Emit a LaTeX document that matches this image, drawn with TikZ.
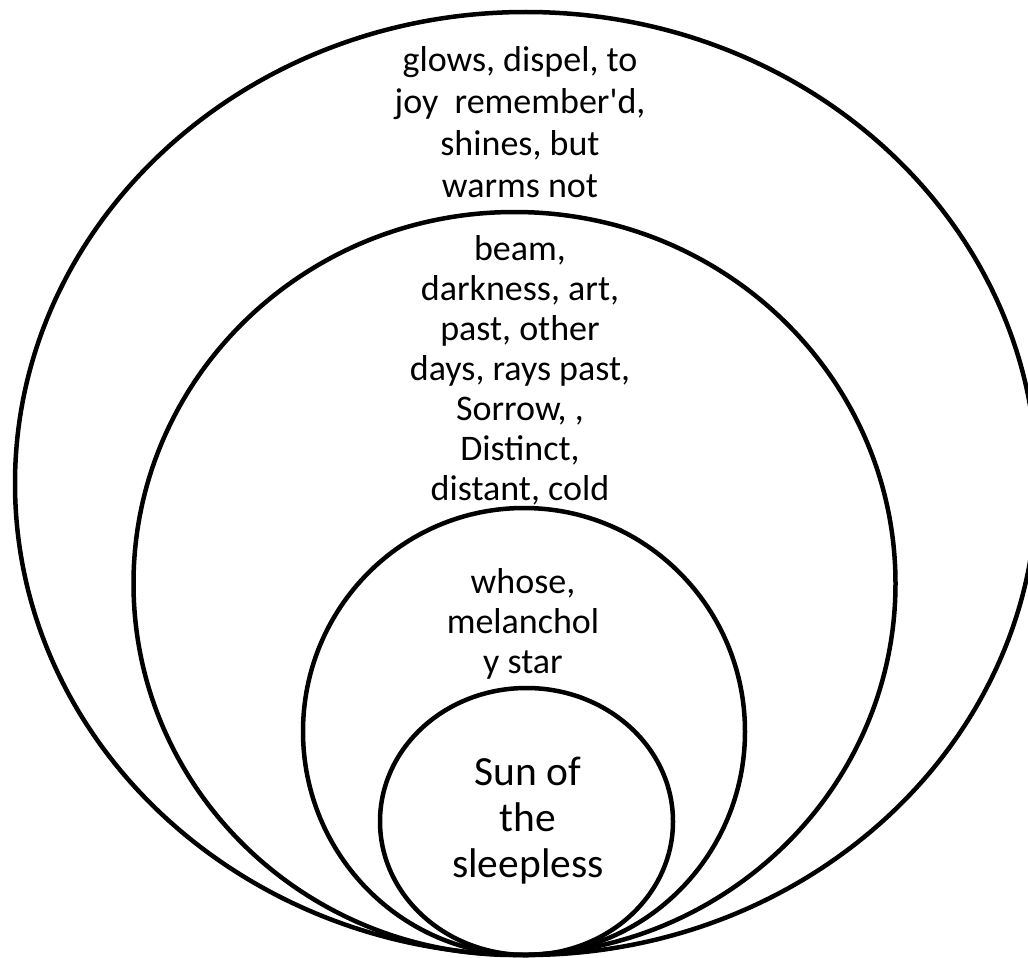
\documentclass[tikz,border=0pt]{standalone}
\usepackage{fontspec}
\setmainfont{Carlito}
\usetikzlibrary{positioning}
\tikzset{
  ring/.style={line width=4.5pt},
  words/.style={align=center, inner sep=0pt, font=\fontsize{36}{40}\selectfont},
  core/.style={align=center, inner sep=0pt, font=\fontsize{41.5}{46}\selectfont}
}
\begin{document}
\begin{tikzpicture}[x=1pt, y=-1pt]
  \useasboundingbox (0,0) rectangle (1028,958);
  % nested rings, all touching at the bottom
  \draw[ring] (526,483.5) ellipse [x radius=511, y radius=471.5];
  \draw[ring] (514.5,583.5) ellipse [x radius=381, y radius=371.5];
  \draw[ring] (524,731.5) ellipse [x radius=221, y radius=223.5];
  \draw[ring] (526.5,821.5) ellipse [x radius=146.5, y radius=133.5];
  % texts
  \node[words, font=\fontsize{36}{42}\selectfont] (outer) at (520,122) {glows, dispel, to\\joy\ \ remember\textquotesingle d,\\shines, but\\warms not};
  \node[words] (second) at (520,370) {beam,\\darkness, art,\\past, other\\days, rays past,\\Sorrow, ,\\Distinct,\\distant, cold};
  \node[words] (third) at (523,624) {whose,\\melanchol\\y star};
  \node[core] (sun) at (528,821) {Sun of\\the\\sleepless};
\end{tikzpicture}
\end{document}
